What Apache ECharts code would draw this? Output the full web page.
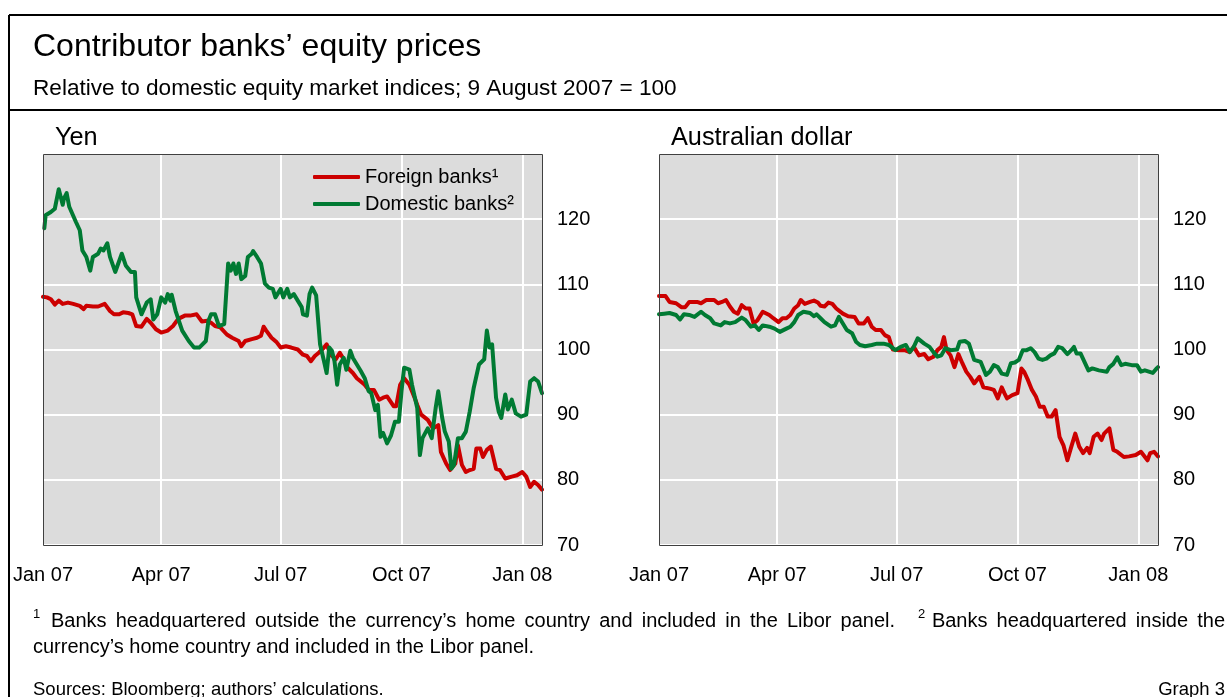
<!DOCTYPE html>
<html>
<head>
<meta charset="utf-8">
<script src="https://cdn.jsdelivr.net/npm/echarts@6.0.0/dist/echarts.min.js"></script>
<style>
  html, body { margin: 0; padding: 0; background: #fff; }
  #chart { width: 1227px; height: 697px; }
</style>
</head>
<body>
<div id="chart"></div>
<script>
// x values are days since 1 Jan 2007
const tickDays = [0, 90, 181, 273, 365];
const tickLabels = ['Jan 07', 'Apr 07', 'Jul 07', 'Oct 07', 'Jan 08'];

// Yen panel
const yenForeignDays = [0, 3, 6, 9, 12, 15, 19, 23, 28, 31, 33, 38, 42, 47, 51, 54, 58, 61, 65, 68,
  71, 75, 79, 82, 86, 90, 95, 99, 103, 108, 112, 117, 121, 125, 128, 131, 135, 140, 144, 149,
  151, 154, 159, 163, 166, 168, 170, 174, 178, 181, 185, 189, 194, 198, 201, 204, 207, 210, 214, 216,
  219, 223, 226, 229, 232, 236, 239, 242, 245, 248, 252, 256, 259, 262, 267, 269, 272, 275, 279, 283,
  285, 288, 293, 297, 301, 303, 307, 310, 314, 316, 319, 322, 325, 328, 330, 333, 335, 338, 341, 345,
  348, 352, 357, 361, 365, 368, 371, 374, 377, 380];
const yenForeign = [108.1, 108.0, 107.7, 106.9, 107.5, 107.0, 107.2, 107.0, 106.7, 106.2, 106.7, 106.6, 106.6, 107.0, 105.9, 105.4, 105.4, 105.7, 105.6, 105.4,
  103.6, 103.5, 104.7, 104.1, 103.1, 102.6, 102.9, 103.6, 104.7, 105.2, 105.2, 105.4, 104.3, 104.4, 104.1, 103.6, 103.4, 102.3, 101.8, 101.3,
  100.5, 101.3, 101.6, 101.8, 102.1, 103.5, 102.9, 101.8, 101.1, 100.3, 100.5, 100.3, 100.0, 99.2, 99.0, 98.2, 99.0, 99.5, 100.3, 100.8,
  99.2, 98.5, 99.5, 98.5, 97.2, 96.4, 95.6, 95.1, 94.6, 93.8, 93.8, 92.3, 92.6, 92.8, 91.3, 91.3, 94.6, 95.6, 94.6, 92.6,
  91.5, 90.0, 89.2, 87.9, 88.4, 84.3, 82.5, 81.5, 82.5, 85.3, 82.3, 81.2, 81.5, 81.7, 84.8, 84.8, 83.5, 84.6, 85.1, 81.7,
  81.5, 80.2, 80.5, 80.7, 81.2, 80.5, 78.9, 79.7, 79.2, 78.5];

const yenDomesticDays = [1, 2, 6, 9, 12, 15, 16, 18, 20, 25, 28, 30, 33, 36, 38, 42, 44, 46, 49, 51,
  55, 60, 63, 67, 70, 71, 75, 79, 82, 84, 87, 90, 93, 95, 97, 98, 101, 106, 111, 115,
  119, 124, 126, 128, 131, 134, 138, 141, 143, 145, 147, 149, 151, 154, 156, 159, 160, 163, 166, 169,
  172, 175, 177, 181, 183, 186, 188, 191, 194, 197, 198, 201, 203, 205, 208, 211, 214, 216, 218, 220,
  222, 224, 226, 229, 231, 234, 236, 239, 242, 245, 248, 250, 253, 255, 257, 259, 262, 265, 268, 271,
  273, 275, 279, 281, 285, 287, 289, 293, 296, 299, 301, 304, 306, 309, 311, 313, 316, 319, 322, 325,
  328, 332, 336, 338, 340, 342, 345, 347, 349, 352, 354, 357, 360, 364, 368, 371, 374, 377, 380];
const yenDomestic = [118.6, 120.6, 121.1, 121.6, 124.6, 122.2, 123.2, 124.0, 121.9, 119.6, 118.3, 115.2, 114.2, 112.1, 114.2, 114.7, 115.5, 115.2, 116.3, 114.2,
  111.9, 114.7, 112.9, 111.9, 111.9, 108.0, 105.4, 107.2, 107.7, 104.6, 105.4, 108.0, 107.2, 108.5, 107.5, 108.4, 105.9, 102.9, 101.3, 100.3,
  100.3, 101.3, 104.4, 105.4, 105.4, 103.6, 103.9, 113.2, 112.1, 113.2, 111.6, 113.2, 110.8, 111.3, 114.2, 114.7, 115.1, 114.2, 113.2, 110.1,
  109.5, 109.3, 108.0, 109.3, 108.0, 109.3, 108.0, 108.5, 107.5, 106.5, 105.4, 105.2, 108.5, 109.5, 108.3, 100.8, 98.2, 96.4, 100.3, 99.8,
  98.2, 94.6, 97.7, 98.7, 96.9, 99.8, 98.7, 97.7, 96.7, 95.6, 93.6, 93.3, 90.7, 91.5, 86.6, 87.2, 85.6, 86.8, 88.9, 88.9,
  93.6, 97.2, 96.9, 94.6, 91.0, 83.8, 86.4, 87.9, 86.4, 91.0, 93.6, 89.5, 87.4, 85.9, 81.7, 82.3, 86.4, 86.4, 87.4, 90.5,
  94.1, 97.7, 98.5, 102.9, 100.3, 100.8, 92.6, 90.5, 89.5, 93.1, 90.8, 92.3, 90.2, 89.7, 90.0, 95.1, 95.6, 95.1, 93.3];

// Australian dollar panel
const audForeignDays = [0, 5, 8, 13, 17, 20, 23, 29, 32, 36, 42, 45, 48, 51, 54, 57, 60, 63, 66, 69,
  72, 75, 79, 84, 87, 91, 94, 97, 100, 103, 106, 108, 111, 115, 118, 121, 123, 126, 129, 132,
  135, 140, 144, 149, 152, 156, 159, 162, 165, 169, 172, 175, 178, 183, 187, 191, 194, 198, 202, 205,
  209, 212, 215, 217, 219, 222, 225, 228, 231, 234, 237, 240, 244, 247, 252, 255, 258, 261, 263, 265,
  269, 273, 276, 278, 281, 284, 287, 290, 293, 296, 299, 302, 305, 308, 311, 314, 317, 320, 323, 326,
  328, 331, 334, 337, 339, 343, 346, 349, 354, 358, 363, 367, 372, 374, 377, 380];
const audForeign = [108.2, 108.2, 107.3, 107.1, 106.5, 106.5, 107.3, 107.3, 107.1, 107.6, 107.6, 107.1, 107.3, 107.6, 106.6, 105.8, 105.5, 106.8, 106.3, 106.3,
  104.0, 104.5, 105.8, 105.3, 104.8, 104.2, 104.8, 104.8, 105.3, 106.3, 106.8, 107.6, 107.0, 107.3, 107.5, 107.2, 106.7, 106.6, 107.2, 107.0,
  106.3, 105.5, 105.1, 105.0, 104.0, 104.0, 104.8, 103.5, 103.0, 103.0, 102.2, 101.9, 100.0, 99.9, 99.9, 99.6, 100.4, 99.1, 99.3, 98.5,
  98.9, 99.9, 100.4, 101.9, 99.9, 99.1, 97.3, 99.3, 97.9, 96.6, 95.8, 94.8, 95.8, 94.2, 94.0, 93.8, 92.5, 94.2, 93.3, 92.5,
  93.0, 93.3, 97.1, 96.6, 95.3, 93.8, 92.8, 91.2, 91.2, 89.7, 89.7, 90.7, 86.6, 85.3, 83.0, 85.1, 87.1, 85.1, 84.1, 84.9,
  84.1, 86.6, 87.1, 86.1, 87.1, 87.9, 84.6, 84.3, 83.5, 83.6, 83.8, 84.3, 83.0, 84.1, 84.3, 83.6];

const audDomesticDays = [0, 4, 8, 13, 16, 19, 23, 27, 32, 35, 39, 42, 47, 50, 54, 58, 63, 66, 70, 73,
  76, 79, 84, 88, 92, 97, 100, 103, 106, 110, 115, 118, 120, 123, 126, 131, 134, 137, 140, 143,
  147, 150, 153, 157, 162, 166, 171, 175, 180, 184, 188, 191, 194, 197, 202, 206, 209, 212, 215, 218,
  222, 227, 229, 233, 236, 240, 245, 249, 252, 255, 258, 261, 265, 268, 271, 274, 277, 280, 283, 286,
  289, 292, 295, 298, 301, 304, 307, 311, 314, 316, 318, 321, 324, 327, 330, 335, 341, 343, 346, 349,
  352, 355, 360, 364, 367, 370, 373, 376, 379, 380];
const audDomestic = [105.4, 105.5, 105.6, 105.3, 104.6, 105.4, 105.3, 105.0, 105.8, 105.3, 104.8, 104.0, 103.7, 104.2, 104.0, 104.2, 104.9, 104.5, 103.5, 103.7,
  103.0, 103.7, 103.5, 103.2, 102.7, 103.2, 103.5, 104.2, 105.3, 105.8, 105.6, 105.1, 105.4, 104.8, 104.2, 103.5, 103.7, 105.0, 104.0, 103.0,
  102.5, 101.2, 100.7, 100.5, 100.7, 100.9, 100.9, 100.7, 99.9, 100.4, 100.7, 99.6, 100.4, 101.7, 100.9, 100.4, 99.6, 98.9, 99.1, 100.2,
  99.9, 100.0, 101.2, 101.3, 100.9, 98.4, 98.1, 96.1, 96.6, 97.6, 97.3, 96.3, 96.1, 97.9, 98.0, 98.4, 99.9, 99.9, 100.2, 99.6,
  98.6, 98.4, 98.6, 99.1, 99.4, 100.4, 100.2, 99.3, 99.9, 100.4, 99.4, 99.4, 98.1, 96.8, 97.1, 96.8, 96.6, 97.3, 97.8, 98.8,
  97.6, 97.8, 97.6, 97.6, 96.6, 96.8, 96.6, 96.4, 97.1, 97.3];

const seriesNames = ['Foreign banks¹', 'Domestic banks²'];
const seriesColors = ['#CC0000', '#007A33'];

const note1 = 'Banks headquartered outside the currency’s home country and included in the Libor panel.';
const note2a = 'Banks headquartered inside the';
const note2b = 'currency’s home country and included in the Libor panel.';

const FONT = '"Liberation Sans", Arial, sans-serif';
const pair = (days, vals) => days.map((d, i) => [d, vals[i]]);

const chart = echarts.init(document.getElementById('chart'), null, { renderer: 'canvas' });

const grids = [
  { left: 43, top: 154, width: 499, height: 391 },
  { left: 659, top: 154, width: 499, height: 391 }
];

function xAxisFor(gridIndex) {
  return {
    type: 'value', gridIndex, min: 0, max: 380,
    axisLine: { show: false },
    axisTick: { show: false, customValues: tickDays },
    axisLabel: {
      customValues: tickDays,
      margin: 20, fontSize: 20, color: '#000', fontFamily: FONT,
      formatter: v => tickLabels[tickDays.indexOf(v)] || ''
    },
    splitLine: { show: true, lineStyle: { color: '#fff', width: 2 } }
  };
}
function yAxisFor(gridIndex) {
  return {
    type: 'value', gridIndex, position: 'right', min: 70, max: 130, interval: 10,
    axisLine: { show: false },
    axisTick: { show: false },
    axisLabel: {
      margin: 15, fontSize: 20, color: '#000', fontFamily: FONT,
      formatter: v => (v === 130 ? '' : String(v))
    },
    splitLine: { show: true, lineStyle: { color: '#fff', width: 2 } }
  };
}
function lineSeries(name, color, data, idx) {
  return {
    name, type: 'line', xAxisIndex: idx, yAxisIndex: idx, data,
    showSymbol: false, symbol: 'none',
    lineStyle: { color, width: 4, cap: 'round', join: 'round' },
    itemStyle: { color },
    emphasis: { disabled: true }
  };
}

const text = (x, y, str, size, extra) => ({
  type: 'text', x, y, z: 10,
  style: Object.assign({ text: str, fontSize: size, fontFamily: FONT, fill: '#000', verticalAlign: 'middle' }, extra || {})
});

// justified first footnote line, like the original
function justifiedLine(y, x0, x1) {
  const ctx = document.createElement('canvas').getContext('2d');
  ctx.font = '20px ' + FONT;
  const wa = note1.split(' '), wb = note2a.split(' ');
  const w = s => ctx.measureText(s).width;
  const supW = 7, supGap = 7, bigGap = 2.5;
  const sum = arr => arr.reduce((a, s) => a + w(s), 0);
  const g = (x1 - x0 - sum(wa) - sum(wb) - supW - supGap) / ((wa.length - 1) + bigGap + (wb.length - 1));
  const out = [];
  let x = x0;
  wa.forEach(s => { out.push(text(x, y, s, 20)); x += w(s) + g; });
  x += g * (bigGap - 1);
  out.push(text(x, y - 7, '2', 13));
  x += supW + supGap;
  wb.forEach(s => { out.push(text(x, y, s, 20)); x += w(s) + g; });
  return out;
}

const option = {
  animation: false,
  backgroundColor: '#fff',
  grid: grids.map(g => Object.assign({ show: true, backgroundColor: '#DCDCDC', borderWidth: 0 }, g)),
  xAxis: [xAxisFor(0), xAxisFor(1)],
  yAxis: [yAxisFor(0), yAxisFor(1)],
  legend: {
    data: seriesNames,
    left: 308, top: 162, orient: 'vertical',
    itemWidth: 47, itemHeight: 4, itemGap: 7, icon: 'roundRect',
    textStyle: { fontSize: 20, color: '#000', fontFamily: FONT },
    selectedMode: false
  },
  series: [
    lineSeries(seriesNames[0], seriesColors[0], pair(yenForeignDays, yenForeign), 0),
    lineSeries(seriesNames[1], seriesColors[1], pair(yenDomesticDays, yenDomestic), 0),
    lineSeries(seriesNames[0], seriesColors[0], pair(audForeignDays, audForeign), 1),
    lineSeries(seriesNames[1], seriesColors[1], pair(audDomesticDays, audDomestic), 1)
  ],
  graphic: [
    // outer frame and header separator
    { type: 'line', z: 10, shape: { x1: 9, y1: 15, x2: 1227, y2: 15 }, style: { stroke: '#000', lineWidth: 2 } },
    { type: 'line', z: 10, shape: { x1: 9, y1: 15, x2: 9, y2: 697 }, style: { stroke: '#000', lineWidth: 2 } },
    { type: 'line', z: 10, shape: { x1: 9, y1: 110, x2: 1227, y2: 110 }, style: { stroke: '#000', lineWidth: 2 } },
    // plot frames
    ...grids.map(g => ({
      type: 'rect', z: 10,
      shape: { x: g.left + 0.5, y: g.top + 0.5, width: g.width, height: g.height },
      style: { fill: null, stroke: '#404040', lineWidth: 1 }
    })),
    text(33, 47, 'Contributor banks’ equity prices', 32),
    text(33, 89, 'Relative to domestic equity market indices; 9 August 2007 = 100', 22.6),
    text(55, 138, 'Yen', 25.3),
    text(671, 138, 'Australian dollar', 25.3),
    text(33, 614, '1', 13),
    ...justifiedLine(621, 51, 1225),
    text(33, 647, note2b, 20),
    text(33, 690, 'Sources: Bloomberg; authors’ calculations.', 18.5),
    text(1225, 690, 'Graph 3', 18.5, { align: 'right' })
  ]
};

chart.setOption(option);
</script>
</body>
</html>
